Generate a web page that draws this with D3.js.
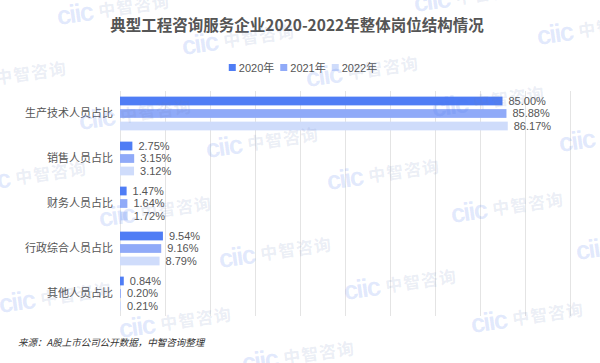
<!DOCTYPE html>
<html>
<head>
<meta charset="utf-8">
<script src="https://cdn.jsdelivr.net/npm/d3@7"></script>
<style>
  html, body { margin: 0; padding: 0; background: #fff; }
  svg { display: block; }
</style>
</head>
<body>
<svg id="chart" width="600" height="363"></svg>
<script>
// ---- data ----
const categories = ["生产技术人员占比", "销售人员占比", "财务人员占比", "行政综合人员占比", "其他人员占比"];
const years = ["2020年", "2021年", "2022年"];
const values2020 = [85.00, 2.75, 1.47, 9.54, 0.84];
const values2021 = [85.88, 3.15, 1.64, 9.16, 0.20];
const values2022 = [86.17, 3.12, 1.72, 8.79, 0.21];
const xTicks = [0, 10, 20, 30, 40, 50, 60, 70, 80, 90, 100];
const titleText = "典型工程咨询服务企业2020-2022年整体岗位结构情况";
const sourceText = "来源：A股上市公司公开数据，中智咨询整理";

// ---- style ----
const colors = ["#4f7df5", "#90aaf8", "#cfdcfb"];
const cjk = "'Noto Sans CJK SC', 'Noto Sans', sans-serif";
const latin = "'Liberation Sans', Arial, 'Noto Sans CJK SC', sans-serif";
const textColor = "#555";

const svg = d3.select("#chart");
const series = [values2020, values2021, values2022];

const x = d3.scaleLinear().domain([0, 100]).range([120, 570]);
const y0 = d3.scaleBand().domain(categories).range([91, 316]);
const y1 = d3.scaleBand().domain(years).range([0, y0.bandwidth()]).paddingInner(0.3).paddingOuter(0.45);

// gridlines via axis
const gAxis = svg.append("g").attr("transform", `translate(0,91)`)
  .call(d3.axisBottom(x).tickValues(xTicks).tickSize(316 - 91).tickFormat(""));
gAxis.select(".domain").remove();
gAxis.selectAll(".tick line").attr("stroke", "#e4e4e4").attr("stroke-width", 1);

// category axis (labels only)
const gY = svg.append("g").attr("transform", "translate(120,0)")
  .call(d3.axisLeft(y0).tickSize(0).tickPadding(7));
gY.select(".domain").remove();
gY.selectAll("text").attr("font-family", cjk).attr("font-size", 11).attr("fill", textColor);

// bars
const groups = svg.append("g").selectAll("g").data(categories).join("g")
  .attr("transform", d => `translate(0,${y0(d)})`);
years.forEach((yr, si) => {
  groups.append("rect")
    .attr("x", x(0))
    .attr("y", y1(yr))
    .attr("width", (d, i) => x(series[si][i]) - x(0))
    .attr("height", y1.bandwidth())
    .attr("fill", colors[si]);
  groups.append("text")
    .attr("x", (d, i) => x(series[si][i]) + 6)
    .attr("y", y1(yr) + y1.bandwidth() / 2)
    .attr("dy", "0.36em")
    .attr("font-family", latin)
    .attr("font-size", 11)
    .attr("fill", textColor)
    .text((d, i) => series[si][i].toFixed(2) + "%");
});

// title
svg.append("text").attr("x", 297).attr("y", 31).attr("text-anchor", "middle")
  .attr("font-family", cjk).attr("font-weight", "bold").attr("font-size", 15.5)
  .attr("fill", "#555").text(titleText);

// legend
const legend = svg.append("g");
let lx = 0;
years.forEach((yr, i) => {
  const g = legend.append("g").attr("transform", `translate(${lx},0)`);
  g.append("rect").attr("x", 0).attr("y", -4).attr("width", 7).attr("height", 7).attr("fill", colors[i]);
  const t = g.append("text").attr("x", 10).attr("y", 0).attr("dy", "0.35em")
    .attr("font-family", latin).attr("font-size", 11).attr("fill", textColor).text(yr);
  lx += 10 + t.node().getComputedTextLength() + 6;
});
legend.attr("transform", `translate(${303 - (lx - 6) / 2},68)`);

// source
svg.append("text").attr("x", 18).attr("y", 346)
  .attr("font-family", cjk).attr("font-style", "italic").attr("font-size", 9.5)
  .attr("fill", "#333").attr("transform", "skewX(0)").text(sourceText);

// watermark (decoration)
const wmPos = [[58,25],[183,55],[-45,92],[307,87],[415,12],[538,45],[433,117],[560,152],
  [80,130],[207,158],[-25,192],[328,190],[452,223],[100,227],[220,268],[0,313],
  [345,300],[472,333],[577,260],[120,338],[243,372]];
const wm = svg.append("g").attr("pointer-events", "none");
wmPos.forEach(([wx, wy]) => {
  const g = wm.append("g").attr("transform", `translate(${wx},${wy}) rotate(-8)`);
  g.append("text").attr("x", 0).attr("y", 0)
    .attr("font-family", "'Liberation Sans', Arial, sans-serif").attr("font-weight", "bold")
    .attr("font-size", 26).attr("letter-spacing", -2)
    .attr("fill", "#4a78f0").attr("fill-opacity", 0.16).text("ciic");
  g.append("text").attr("x", 42).attr("y", -2)
    .attr("font-family", cjk).attr("font-weight", "bold")
    .attr("font-size", 17).attr("letter-spacing", 1)
    .attr("fill", "#6a7fb8").attr("fill-opacity", 0.15).text("中智咨询");
});
</script>
</body>
</html>
